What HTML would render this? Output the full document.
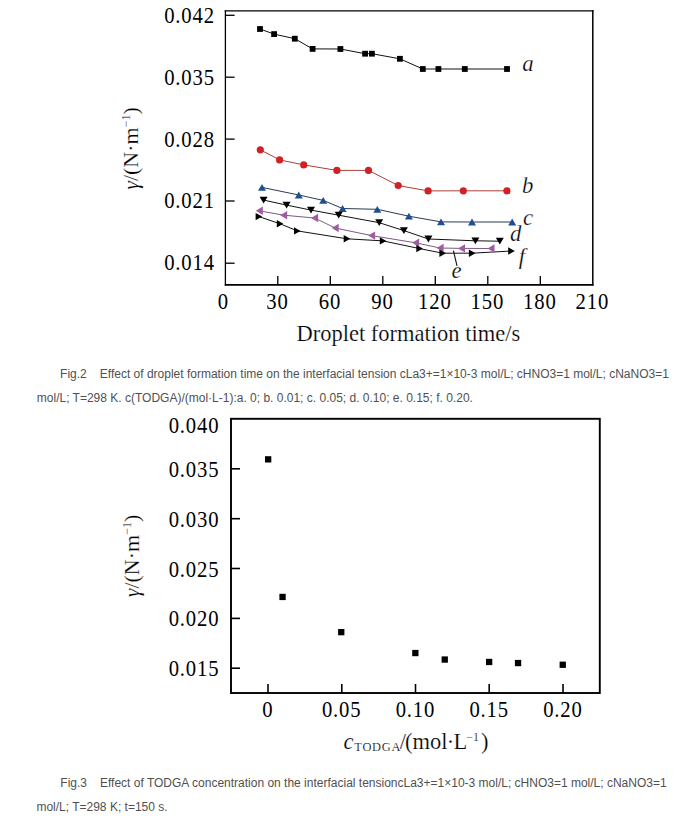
<!DOCTYPE html>
<html><head><meta charset="utf-8"><title>Fig</title>
<style>
html,body{margin:0;padding:0;background:#fff;}
body{width:697px;height:816px;position:relative;overflow:hidden;}
svg{position:absolute;left:0;top:0;}
.tk{font-family:'Liberation Serif', 'Times New Roman', serif;font-size:22.5px;fill:#000;}
.lab{font-family:'Liberation Serif', 'Times New Roman', serif;font-size:22.8px;font-style:italic;fill:#000;stroke:#fff;stroke-width:0.25px;}
.ax{font-family:'Liberation Serif', 'Times New Roman', serif;font-size:22px;fill:#000;stroke:#fff;stroke-width:0.2px;}
.axb{font-family:'Liberation Serif', 'Times New Roman', serif;font-size:22.5px;fill:#000;stroke:#fff;stroke-width:0.2px;}
.sup{font-size:12px;}
.sub{font-size:12.4px;letter-spacing:0.75px;}
.cap{position:absolute;font-family:'Liberation Sans', Arial, sans-serif;font-size:12px;color:#505050;white-space:nowrap;line-height:14px;}
</style></head><body>
<svg width="697" height="816" viewBox="0 0 697 816">
<line x1="225.4" y1="10.2" x2="225.4" y2="285.6" stroke="#000" stroke-width="1.3"/>
<line x1="224.75" y1="10.8" x2="593.55" y2="10.8" stroke="#000" stroke-width="1.3"/>
<line x1="592.8" y1="10.2" x2="592.8" y2="285.6" stroke="#000" stroke-width="1.5"/>
<line x1="224.75" y1="284.8" x2="593.55" y2="284.8" stroke="#000" stroke-width="1.8"/>
<line x1="225.3" y1="15.3" x2="234.60000000000002" y2="15.3" stroke="#000" stroke-width="1.3"/>
<text transform="translate(169.50,22.90) scale(0.92,1.05)" text-anchor="middle" class="tk">0</text><text transform="translate(177.94,22.90) scale(0.92,1.05)" text-anchor="middle" class="tk">.</text><text transform="translate(186.38,22.90) scale(0.92,1.05)" text-anchor="middle" class="tk">0</text><text transform="translate(197.62,22.90) scale(0.92,1.05)" text-anchor="middle" class="tk">4</text><text transform="translate(208.88,22.90) scale(0.92,1.05)" text-anchor="middle" class="tk">2</text>
<line x1="225.3" y1="77.2" x2="234.60000000000002" y2="77.2" stroke="#000" stroke-width="1.3"/>
<text transform="translate(169.50,84.80) scale(0.92,1.05)" text-anchor="middle" class="tk">0</text><text transform="translate(177.94,84.80) scale(0.92,1.05)" text-anchor="middle" class="tk">.</text><text transform="translate(186.38,84.80) scale(0.92,1.05)" text-anchor="middle" class="tk">0</text><text transform="translate(197.62,84.80) scale(0.92,1.05)" text-anchor="middle" class="tk">3</text><text transform="translate(208.88,84.80) scale(0.92,1.05)" text-anchor="middle" class="tk">5</text>
<line x1="225.3" y1="139.1" x2="234.60000000000002" y2="139.1" stroke="#000" stroke-width="1.3"/>
<text transform="translate(169.50,147.30) scale(0.92,1.05)" text-anchor="middle" class="tk">0</text><text transform="translate(177.94,147.30) scale(0.92,1.05)" text-anchor="middle" class="tk">.</text><text transform="translate(186.38,147.30) scale(0.92,1.05)" text-anchor="middle" class="tk">0</text><text transform="translate(197.62,147.30) scale(0.92,1.05)" text-anchor="middle" class="tk">2</text><text transform="translate(208.88,147.30) scale(0.92,1.05)" text-anchor="middle" class="tk">8</text>
<line x1="225.3" y1="201.0" x2="234.60000000000002" y2="201.0" stroke="#000" stroke-width="1.3"/>
<text transform="translate(169.50,207.80) scale(0.92,1.05)" text-anchor="middle" class="tk">0</text><text transform="translate(177.94,207.80) scale(0.92,1.05)" text-anchor="middle" class="tk">.</text><text transform="translate(186.38,207.80) scale(0.92,1.05)" text-anchor="middle" class="tk">0</text><text transform="translate(197.62,207.80) scale(0.92,1.05)" text-anchor="middle" class="tk">2</text><text transform="translate(208.88,207.80) scale(0.92,1.05)" text-anchor="middle" class="tk">1</text>
<line x1="225.3" y1="263.2" x2="234.60000000000002" y2="263.2" stroke="#000" stroke-width="1.3"/>
<text transform="translate(169.50,270.00) scale(0.92,1.05)" text-anchor="middle" class="tk">0</text><text transform="translate(177.94,270.00) scale(0.92,1.05)" text-anchor="middle" class="tk">.</text><text transform="translate(186.38,270.00) scale(0.92,1.05)" text-anchor="middle" class="tk">0</text><text transform="translate(197.62,270.00) scale(0.92,1.05)" text-anchor="middle" class="tk">1</text><text transform="translate(208.88,270.00) scale(0.92,1.05)" text-anchor="middle" class="tk">4</text>
<text transform="translate(223.00,308.80) scale(0.92,1.05)" text-anchor="middle" class="tk">0</text>
<line x1="277.8" y1="285.0" x2="277.8" y2="276.0" stroke="#000" stroke-width="1.3"/>
<text transform="translate(271.38,308.80) scale(0.92,1.05)" text-anchor="middle" class="tk">3</text><text transform="translate(282.62,308.80) scale(0.92,1.05)" text-anchor="middle" class="tk">0</text>
<line x1="330.3" y1="285.0" x2="330.3" y2="276.0" stroke="#000" stroke-width="1.3"/>
<text transform="translate(323.88,308.80) scale(0.92,1.05)" text-anchor="middle" class="tk">6</text><text transform="translate(335.12,308.80) scale(0.92,1.05)" text-anchor="middle" class="tk">0</text>
<line x1="382.8" y1="285.0" x2="382.8" y2="276.0" stroke="#000" stroke-width="1.3"/>
<text transform="translate(376.37,308.80) scale(0.92,1.05)" text-anchor="middle" class="tk">9</text><text transform="translate(387.62,308.80) scale(0.92,1.05)" text-anchor="middle" class="tk">0</text>
<line x1="435.3" y1="285.0" x2="435.3" y2="276.0" stroke="#000" stroke-width="1.3"/>
<text transform="translate(423.25,308.80) scale(0.92,1.05)" text-anchor="middle" class="tk">1</text><text transform="translate(434.50,308.80) scale(0.92,1.05)" text-anchor="middle" class="tk">2</text><text transform="translate(445.75,308.80) scale(0.92,1.05)" text-anchor="middle" class="tk">0</text>
<line x1="487.8" y1="285.0" x2="487.8" y2="276.0" stroke="#000" stroke-width="1.3"/>
<text transform="translate(475.75,308.80) scale(0.92,1.05)" text-anchor="middle" class="tk">1</text><text transform="translate(487.00,308.80) scale(0.92,1.05)" text-anchor="middle" class="tk">5</text><text transform="translate(498.25,308.80) scale(0.92,1.05)" text-anchor="middle" class="tk">0</text>
<line x1="540.3" y1="285.0" x2="540.3" y2="276.0" stroke="#000" stroke-width="1.3"/>
<text transform="translate(528.25,308.80) scale(0.92,1.05)" text-anchor="middle" class="tk">1</text><text transform="translate(539.50,308.80) scale(0.92,1.05)" text-anchor="middle" class="tk">8</text><text transform="translate(550.75,308.80) scale(0.92,1.05)" text-anchor="middle" class="tk">0</text>
<text transform="translate(580.75,308.80) scale(0.92,1.05)" text-anchor="middle" class="tk">2</text><text transform="translate(592.00,308.80) scale(0.92,1.05)" text-anchor="middle" class="tk">1</text><text transform="translate(603.25,308.80) scale(0.92,1.05)" text-anchor="middle" class="tk">0</text>
<polyline points="260.0,29.0 274.1,34.1 294.8,38.7 312.6,48.9 340.4,49.0 365.1,53.7 371.9,53.7 399.9,58.8 422.8,69.0 438.4,69.0 464.8,69.0 507.0,69.0" fill="none" stroke="#111" stroke-width="1.0"/>
<polyline points="260.3,149.8 279.6,159.9 303.7,164.9 336.9,170.4 368.5,170.4 398.2,185.5 428.1,190.9 463.3,190.8 506.9,190.8" fill="none" stroke="#ab4038" stroke-width="1.0"/>
<polyline points="262.0,187.4 298.8,195.0 323.2,200.4 342.6,208.5 377.3,209.3 408.9,216.2 441.0,221.9 472.0,222.0 512.2,222.0" fill="none" stroke="#2c3a55" stroke-width="1.0"/>
<polyline points="263.6,200.1 286.6,205.1 311.0,210.1 338.7,215.2 379.2,222.7 403.9,230.6 428.4,239.0 475.4,240.8 499.8,241.2" fill="none" stroke="#111" stroke-width="1.0"/>
<polyline points="259.3,210.8 283.7,215.2 314.6,218.0 335.2,228.0 371.6,235.6 415.6,242.8 440.1,248.0 461.5,248.4 491.0,248.5" fill="none" stroke="#7d5a80" stroke-width="1.0"/>
<polyline points="258.9,216.6 280.1,223.8 297.3,230.9 347.0,238.8 383.1,240.9 419.6,248.6 442.7,253.2 472.2,253.2 511.5,251.0" fill="none" stroke="#111" stroke-width="1.0"/>
<rect x="257.1" y="26.1" width="5.8" height="5.8" fill="#000"/>
<rect x="271.2" y="31.2" width="5.8" height="5.8" fill="#000"/>
<rect x="291.9" y="35.8" width="5.8" height="5.8" fill="#000"/>
<rect x="309.7" y="46.0" width="5.8" height="5.8" fill="#000"/>
<rect x="337.5" y="46.1" width="5.8" height="5.8" fill="#000"/>
<rect x="362.2" y="50.8" width="5.8" height="5.8" fill="#000"/>
<rect x="369.0" y="50.8" width="5.8" height="5.8" fill="#000"/>
<rect x="397.0" y="55.9" width="5.8" height="5.8" fill="#000"/>
<rect x="419.9" y="66.1" width="5.8" height="5.8" fill="#000"/>
<rect x="435.5" y="66.1" width="5.8" height="5.8" fill="#000"/>
<rect x="461.9" y="66.1" width="5.8" height="5.8" fill="#000"/>
<rect x="504.1" y="66.1" width="5.8" height="5.8" fill="#000"/>
<circle cx="260.3" cy="149.8" r="3.6" fill="#d02226"/>
<circle cx="279.6" cy="159.9" r="3.6" fill="#d02226"/>
<circle cx="303.7" cy="164.9" r="3.6" fill="#d02226"/>
<circle cx="336.9" cy="170.4" r="3.6" fill="#d02226"/>
<circle cx="368.5" cy="170.4" r="3.6" fill="#d02226"/>
<circle cx="398.2" cy="185.5" r="3.6" fill="#d02226"/>
<circle cx="428.1" cy="190.9" r="3.6" fill="#d02226"/>
<circle cx="463.3" cy="190.8" r="3.6" fill="#d02226"/>
<circle cx="506.9" cy="190.8" r="3.6" fill="#d02226"/>
<polygon points="262.0,184.0 266.0,190.8 258.0,190.8" fill="#1f4f93"/>
<polygon points="298.8,191.6 302.8,198.4 294.8,198.4" fill="#1f4f93"/>
<polygon points="323.2,197.0 327.2,203.8 319.2,203.8" fill="#1f4f93"/>
<polygon points="342.6,205.1 346.6,211.9 338.6,211.9" fill="#1f4f93"/>
<polygon points="377.3,205.9 381.3,212.7 373.3,212.7" fill="#1f4f93"/>
<polygon points="408.9,212.8 412.9,219.6 404.9,219.6" fill="#1f4f93"/>
<polygon points="441.0,218.5 445.0,225.3 437.0,225.3" fill="#1f4f93"/>
<polygon points="472.0,218.6 476.0,225.4 468.0,225.4" fill="#1f4f93"/>
<polygon points="512.2,218.6 516.2,225.4 508.2,225.4" fill="#1f4f93"/>
<polygon points="263.6,203.5 267.6,196.7 259.6,196.7" fill="#000"/>
<polygon points="286.6,208.5 290.6,201.7 282.6,201.7" fill="#000"/>
<polygon points="311.0,213.5 315.0,206.7 307.0,206.7" fill="#000"/>
<polygon points="338.7,218.6 342.7,211.8 334.7,211.8" fill="#000"/>
<polygon points="379.2,226.1 383.2,219.3 375.2,219.3" fill="#000"/>
<polygon points="403.9,234.0 407.9,227.2 399.9,227.2" fill="#000"/>
<polygon points="428.4,242.4 432.4,235.6 424.4,235.6" fill="#000"/>
<polygon points="475.4,244.2 479.4,237.4 471.4,237.4" fill="#000"/>
<polygon points="499.8,244.6 503.8,237.8 495.8,237.8" fill="#000"/>
<polygon points="255.8,210.8 262.8,206.6 262.8,215.0" fill="#a05ca2"/>
<polygon points="280.2,215.2 287.2,211.0 287.2,219.4" fill="#a05ca2"/>
<polygon points="311.1,218.0 318.1,213.8 318.1,222.2" fill="#a05ca2"/>
<polygon points="331.7,228.0 338.7,223.8 338.7,232.2" fill="#a05ca2"/>
<polygon points="368.1,235.6 375.1,231.4 375.1,239.8" fill="#a05ca2"/>
<polygon points="412.1,242.8 419.1,238.6 419.1,247.0" fill="#a05ca2"/>
<polygon points="436.6,248.0 443.6,243.8 443.6,252.2" fill="#a05ca2"/>
<polygon points="458.0,248.4 465.0,244.2 465.0,252.6" fill="#a05ca2"/>
<polygon points="487.5,248.5 494.5,244.3 494.5,252.7" fill="#a05ca2"/>
<polygon points="262.2,216.6 255.6,212.9 255.6,220.3" fill="#000"/>
<polygon points="283.4,223.8 276.8,220.1 276.8,227.5" fill="#000"/>
<polygon points="300.6,230.9 294.0,227.2 294.0,234.6" fill="#000"/>
<polygon points="350.3,238.8 343.7,235.1 343.7,242.5" fill="#000"/>
<polygon points="386.4,240.9 379.8,237.2 379.8,244.6" fill="#000"/>
<polygon points="422.9,248.6 416.3,244.9 416.3,252.3" fill="#000"/>
<polygon points="446.0,253.2 439.4,249.5 439.4,256.9" fill="#000"/>
<polygon points="475.5,253.2 468.9,249.5 468.9,256.9" fill="#000"/>
<polygon points="514.8,251.0 508.2,247.3 508.2,254.7" fill="#000"/>
<text x="522.3" y="70.8" class="lab">a</text>
<text x="522.0" y="192.6" class="lab">b</text>
<text x="523.0" y="225.0" class="lab">c</text>
<text x="510.0" y="241.0" class="lab">d</text>
<text x="451.5" y="277.9" class="lab">e</text>
<text x="518.8" y="263.5" class="lab">f</text>
<line x1="453.4" y1="250.6" x2="457.0" y2="265.8" stroke="#111" stroke-width="1.1"/>
<text transform="translate(138.0,148.5) rotate(-90)" text-anchor="middle" class="ax"><tspan font-style="italic">γ</tspan>/(N·m<tspan class="sup" dy="-8">−1</tspan><tspan dy="8">)</tspan></text>
<text x="408.3" y="340.7" text-anchor="middle" class="axb">Droplet formation time/s</text>
<rect x="231.0" y="418.8" width="368.8" height="274.2" fill="none" stroke="#000" stroke-width="1.9"/>
<text transform="translate(174.00,432.60) scale(0.92,1.05)" text-anchor="middle" class="tk">0</text><text transform="translate(182.44,432.60) scale(0.92,1.05)" text-anchor="middle" class="tk">.</text><text transform="translate(190.88,432.60) scale(0.92,1.05)" text-anchor="middle" class="tk">0</text><text transform="translate(202.12,432.60) scale(0.92,1.05)" text-anchor="middle" class="tk">4</text><text transform="translate(213.38,432.60) scale(0.92,1.05)" text-anchor="middle" class="tk">0</text>
<line x1="231.0" y1="468.8" x2="240.0" y2="468.8" stroke="#000" stroke-width="1.6"/>
<text transform="translate(174.00,476.85) scale(0.92,1.05)" text-anchor="middle" class="tk">0</text><text transform="translate(182.44,476.85) scale(0.92,1.05)" text-anchor="middle" class="tk">.</text><text transform="translate(190.88,476.85) scale(0.92,1.05)" text-anchor="middle" class="tk">0</text><text transform="translate(202.12,476.85) scale(0.92,1.05)" text-anchor="middle" class="tk">3</text><text transform="translate(213.38,476.85) scale(0.92,1.05)" text-anchor="middle" class="tk">5</text>
<line x1="231.0" y1="518.7" x2="240.0" y2="518.7" stroke="#000" stroke-width="1.6"/>
<text transform="translate(174.00,526.70) scale(0.92,1.05)" text-anchor="middle" class="tk">0</text><text transform="translate(182.44,526.70) scale(0.92,1.05)" text-anchor="middle" class="tk">.</text><text transform="translate(190.88,526.70) scale(0.92,1.05)" text-anchor="middle" class="tk">0</text><text transform="translate(202.12,526.70) scale(0.92,1.05)" text-anchor="middle" class="tk">3</text><text transform="translate(213.38,526.70) scale(0.92,1.05)" text-anchor="middle" class="tk">0</text>
<line x1="231.0" y1="568.5" x2="240.0" y2="568.5" stroke="#000" stroke-width="1.6"/>
<text transform="translate(174.00,576.55) scale(0.92,1.05)" text-anchor="middle" class="tk">0</text><text transform="translate(182.44,576.55) scale(0.92,1.05)" text-anchor="middle" class="tk">.</text><text transform="translate(190.88,576.55) scale(0.92,1.05)" text-anchor="middle" class="tk">0</text><text transform="translate(202.12,576.55) scale(0.92,1.05)" text-anchor="middle" class="tk">2</text><text transform="translate(213.38,576.55) scale(0.92,1.05)" text-anchor="middle" class="tk">5</text>
<line x1="231.0" y1="618.4" x2="240.0" y2="618.4" stroke="#000" stroke-width="1.6"/>
<text transform="translate(174.00,626.40) scale(0.92,1.05)" text-anchor="middle" class="tk">0</text><text transform="translate(182.44,626.40) scale(0.92,1.05)" text-anchor="middle" class="tk">.</text><text transform="translate(190.88,626.40) scale(0.92,1.05)" text-anchor="middle" class="tk">0</text><text transform="translate(202.12,626.40) scale(0.92,1.05)" text-anchor="middle" class="tk">2</text><text transform="translate(213.38,626.40) scale(0.92,1.05)" text-anchor="middle" class="tk">0</text>
<line x1="231.0" y1="668.2" x2="240.0" y2="668.2" stroke="#000" stroke-width="1.6"/>
<text transform="translate(174.00,676.25) scale(0.92,1.05)" text-anchor="middle" class="tk">0</text><text transform="translate(182.44,676.25) scale(0.92,1.05)" text-anchor="middle" class="tk">.</text><text transform="translate(190.88,676.25) scale(0.92,1.05)" text-anchor="middle" class="tk">0</text><text transform="translate(202.12,676.25) scale(0.92,1.05)" text-anchor="middle" class="tk">1</text><text transform="translate(213.38,676.25) scale(0.92,1.05)" text-anchor="middle" class="tk">5</text>
<line x1="268.0" y1="693.0" x2="268.0" y2="684.0" stroke="#000" stroke-width="1.6"/>
<text transform="translate(267.50,716.80) scale(0.92,1.05)" text-anchor="middle" class="tk">0</text>
<line x1="341.8" y1="693.0" x2="341.8" y2="684.0" stroke="#000" stroke-width="1.6"/>
<text transform="translate(327.19,716.80) scale(0.92,1.05)" text-anchor="middle" class="tk">0</text><text transform="translate(335.62,716.80) scale(0.92,1.05)" text-anchor="middle" class="tk">.</text><text transform="translate(344.06,716.80) scale(0.92,1.05)" text-anchor="middle" class="tk">0</text><text transform="translate(355.31,716.80) scale(0.92,1.05)" text-anchor="middle" class="tk">5</text>
<line x1="415.5" y1="693.0" x2="415.5" y2="684.0" stroke="#000" stroke-width="1.6"/>
<text transform="translate(400.94,716.80) scale(0.92,1.05)" text-anchor="middle" class="tk">0</text><text transform="translate(409.38,716.80) scale(0.92,1.05)" text-anchor="middle" class="tk">.</text><text transform="translate(417.81,716.80) scale(0.92,1.05)" text-anchor="middle" class="tk">1</text><text transform="translate(429.06,716.80) scale(0.92,1.05)" text-anchor="middle" class="tk">0</text>
<line x1="489.2" y1="693.0" x2="489.2" y2="684.0" stroke="#000" stroke-width="1.6"/>
<text transform="translate(474.69,716.80) scale(0.92,1.05)" text-anchor="middle" class="tk">0</text><text transform="translate(483.12,716.80) scale(0.92,1.05)" text-anchor="middle" class="tk">.</text><text transform="translate(491.56,716.80) scale(0.92,1.05)" text-anchor="middle" class="tk">1</text><text transform="translate(502.81,716.80) scale(0.92,1.05)" text-anchor="middle" class="tk">5</text>
<line x1="563.0" y1="693.0" x2="563.0" y2="684.0" stroke="#000" stroke-width="1.6"/>
<text transform="translate(548.44,716.80) scale(0.92,1.05)" text-anchor="middle" class="tk">0</text><text transform="translate(556.88,716.80) scale(0.92,1.05)" text-anchor="middle" class="tk">.</text><text transform="translate(565.31,716.80) scale(0.92,1.05)" text-anchor="middle" class="tk">2</text><text transform="translate(576.56,716.80) scale(0.92,1.05)" text-anchor="middle" class="tk">0</text>
<rect x="265.0" y="456.2" width="6.3" height="6.3" fill="#000"/>
<rect x="279.4" y="593.8" width="6.3" height="6.3" fill="#000"/>
<rect x="338.1" y="629.0" width="6.3" height="6.3" fill="#000"/>
<rect x="412.2" y="649.9" width="6.3" height="6.3" fill="#000"/>
<rect x="441.6" y="656.4" width="6.3" height="6.3" fill="#000"/>
<rect x="486.0" y="658.8" width="6.3" height="6.3" fill="#000"/>
<rect x="514.9" y="659.9" width="6.3" height="6.3" fill="#000"/>
<rect x="559.6" y="661.6" width="6.3" height="6.3" fill="#000"/>
<text y="749" class="axb"><tspan x="343.5" font-style="italic">c</tspan><tspan x="354.3" y="750.5" class="sub">TODGA</tspan><tspan x="399.8" y="749">/</tspan><tspan x="405.0">(mol</tspan><tspan x="446.7">·</tspan><tspan x="453.5">L</tspan><tspan x="466.3" y="741.3" class="sup">−1</tspan><tspan x="481.0" y="749">)</tspan></text>
<text transform="translate(139.0,556.0) rotate(-90)" text-anchor="middle" class="ax"><tspan font-style="italic">γ</tspan>/(N·m<tspan class="sup" dy="-8">−1</tspan><tspan dy="8">)</tspan></text>
</svg>
<div class="cap" style="left:60.1px;top:367px">Fig.2<span style="display:inline-block;width:13px"></span>Effect of droplet formation time on the interfacial tension cLa3+=1×10-3 mol/L; cHNO3=1 mol/L; cNaNO3=1</div>
<div class="cap" style="left:36.8px;top:391px">mol/L; T=298 K. c(TODGA)/(mol·L-1):a. 0; b. 0.01; c. 0.05; d. 0.10; e. 0.15; f. 0.20.</div>
<div class="cap" style="left:60.3px;top:776px">Fig.3<span style="display:inline-block;width:13px"></span>Effect of TODGA concentration on the interfacial tensioncLa3+=1×10-3 mol/L; cHNO3=1 mol/L; cNaNO3=1</div>
<div class="cap" style="left:36.4px;top:799.9px">mol/L; T=298 K; t=150 s.</div>
</body></html>
